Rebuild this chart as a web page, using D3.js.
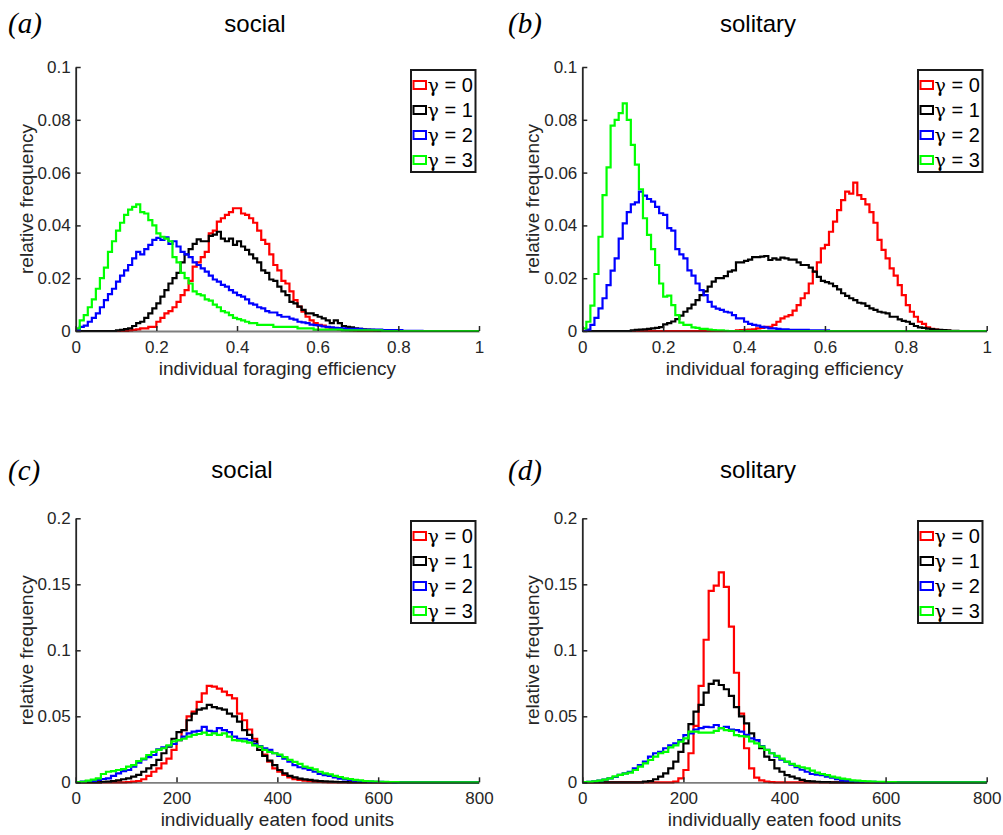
<!DOCTYPE html>
<html>
<head>
<meta charset="utf-8">
<script src="https://cdn.jsdelivr.net/npm/d3@7"></script>
<style>
  body { margin: 0; background: #fff; }
  text { font-family: "Liberation Sans", Arial, Helvetica, sans-serif; }
</style>
</head>
<body>
<svg id="chart" width="1003" height="835"></svg>
<script>
// legend entries, one per gamma value
const gammaValues = ['0', '1', '2', '3'];
const lineColors = ['#ff0000', '#000000', '#0000ff', '#00ff00'];

// ticks
const effTicksX = [0, 0.2, 0.4, 0.6, 0.8, 1];
const effTicksY = [0, 0.02, 0.04, 0.06, 0.08, 0.1];
const foodTicksX = [0, 200, 400, 600, 800];
const foodTicksY = [0, 0.05, 0.1, 0.15, 0.2];

// histogram bins
const effBinWidth = 0.01, effBins = 100;
const foodBinWidth = 10, foodBins = 80;

// (a) social, foraging efficiency. first bin index of each series, then the bin values
const aStarts = [13, 10, 0, 0];
const aG0 = [0.0002, 0.0004, 0.0006, 0.001, 0.001, 0.0016, 0.0016, 0.0035, 0.005, 0.0067, 0.0075, 0.009, 0.011, 0.0136, 0.0155, 0.019, 0.0244, 0.026, 0.028, 0.030, 0.037, 0.038, 0.0414, 0.0427, 0.044, 0.045, 0.0465, 0.0465, 0.0445, 0.044, 0.0427, 0.041, 0.038, 0.0345, 0.033, 0.029, 0.025, 0.023, 0.019, 0.018, 0.015, 0.0117, 0.0092, 0.0073, 0.0054, 0.004, 0.003, 0.0023, 0.002, 0.0014, 0.0012, 0.0008, 0.0006, 0.0004, 0.0003, 0.0002, 0.0001];
const aG1 = [0.0002, 0.0004, 0.0007, 0.001, 0.0019, 0.003, 0.0035, 0.005, 0.0067, 0.0086, 0.0105, 0.013, 0.0155, 0.018, 0.020, 0.022, 0.026, 0.029, 0.031, 0.033, 0.0347, 0.034, 0.034, 0.036, 0.0365, 0.0376, 0.035, 0.034, 0.035, 0.0326, 0.034, 0.032, 0.0307, 0.029, 0.0275, 0.026, 0.023, 0.022, 0.0195, 0.019, 0.0168, 0.015, 0.0136, 0.011, 0.0105, 0.0092, 0.008, 0.0067, 0.0067, 0.006, 0.0054, 0.0048, 0.004, 0.003, 0.004, 0.003, 0.0019, 0.0016, 0.0014, 0.001, 0.0008, 0.0006, 0.0005, 0.0004, 0.0003, 0.0002, 0.0002, 0.0001, 0.0001];
const aG2 = [0.0005, 0.0016, 0.002, 0.0035, 0.005, 0.0067, 0.009, 0.0117, 0.014, 0.016, 0.0187, 0.021, 0.023, 0.025, 0.0275, 0.030, 0.029, 0.031, 0.0326, 0.0345, 0.0353, 0.0345, 0.0355, 0.033, 0.034, 0.032, 0.030, 0.029, 0.028, 0.026, 0.025, 0.0237, 0.0225, 0.021, 0.0195, 0.0187, 0.0175, 0.0168, 0.0155, 0.0145, 0.0136, 0.013, 0.012, 0.0105, 0.0100, 0.0090, 0.0086, 0.0075, 0.0070, 0.0070, 0.0060, 0.0054, 0.0054, 0.0047, 0.0043, 0.0035, 0.0033, 0.0030, 0.0024, 0.0022, 0.002, 0.0017, 0.0016, 0.0014, 0.0012, 0.0011, 0.001, 0.0008, 0.0008, 0.0008, 0.0008, 0.0005, 0.0005, 0.0005, 0.0005, 0.0005, 0.0003, 0.0003, 0.0003, 0.0003, 0.0003, 0.0001, 0.0001, 0.0001, 0.0001, 0.0001];
const aG3 = [0.001, 0.004, 0.006, 0.009, 0.012, 0.016, 0.020, 0.024, 0.030, 0.034, 0.038, 0.041, 0.044, 0.046, 0.047, 0.048, 0.045, 0.0445, 0.042, 0.040, 0.037, 0.0357, 0.035, 0.034, 0.028, 0.026, 0.022, 0.020, 0.018, 0.015, 0.014, 0.0135, 0.012, 0.0115, 0.010, 0.009, 0.0075, 0.007, 0.006, 0.005, 0.0045, 0.004, 0.0035, 0.003, 0.003, 0.0023, 0.0023, 0.0023, 0.0023, 0.0016, 0.0016, 0.0016, 0.0016, 0.0016, 0.0016, 0.001, 0.001, 0.001, 0.001, 0.0005, 0.0005, 0.0005, 0.0005, 0.0005, 0.0005, 0.0005, 0.0002, 0.0002, 0.0002, 0.0002, 0.0002, 0.0002, 0.0002, 0.0002, 0.0002, 0.0002];

// (b) solitary, foraging efficiency
const bStarts = [38, 12, 0, 0];
const bG0 = [0.0002, 0.0003, 0.0004, 0.0005, 0.0006, 0.001, 0.0012, 0.0016, 0.0016, 0.0023, 0.0035, 0.0048, 0.0055, 0.006, 0.0077, 0.0098, 0.0124, 0.0143, 0.018, 0.0225, 0.026, 0.0313, 0.0326, 0.0376, 0.0414, 0.0458, 0.0496, 0.0528, 0.052, 0.0562, 0.0515, 0.050, 0.048, 0.045, 0.041, 0.0345, 0.0307, 0.0275, 0.0237, 0.021, 0.0174, 0.0136, 0.0098, 0.0073, 0.0054, 0.0035, 0.0027, 0.0014, 0.0008, 0.0005, 0.0003, 0.0002, 0.0001];
const bG1 = [0.0002, 0.0004, 0.0005, 0.0006, 0.0008, 0.001, 0.0012, 0.0015, 0.0025, 0.003, 0.0036, 0.0045, 0.0058, 0.0073, 0.0086, 0.010, 0.0117, 0.0136, 0.015, 0.0168, 0.0187, 0.020, 0.020, 0.0208, 0.0225, 0.023, 0.026, 0.026, 0.0266, 0.027, 0.028, 0.028, 0.0282, 0.0284, 0.0269, 0.0275, 0.027, 0.0278, 0.0275, 0.027, 0.027, 0.026, 0.025, 0.025, 0.024, 0.0225, 0.0205, 0.019, 0.0185, 0.018, 0.017, 0.0158, 0.0143, 0.0133, 0.0124, 0.0117, 0.0107, 0.0105, 0.0095, 0.0086, 0.008, 0.0073, 0.007, 0.0067, 0.0054, 0.0054, 0.0044, 0.0038, 0.0035, 0.0027, 0.0019, 0.0014, 0.0012, 0.0009, 0.0007, 0.0005, 0.0004, 0.0003, 0.0002, 0.0001, 0.0001];
const bG2 = [0, 0.0005, 0.0023, 0.005, 0.0086, 0.0124, 0.0174, 0.0229, 0.0275, 0.035, 0.0408, 0.045, 0.048, 0.0487, 0.0528, 0.0513, 0.050, 0.049, 0.047, 0.0446, 0.044, 0.039, 0.038, 0.031, 0.029, 0.0275, 0.023, 0.021, 0.018, 0.0155, 0.0136, 0.011, 0.0092, 0.0085, 0.008, 0.0073, 0.007, 0.006, 0.0048, 0.0048, 0.0035, 0.0027, 0.0023, 0.002, 0.0016, 0.0014, 0.001, 0.001, 0.0008, 0.0006, 0.0006, 0.0004, 0.0004, 0.0004, 0.0004, 0.0004, 0.0002, 0.0002, 0.0002, 0.0002, 0.0002];
const bG3 = [0.001, 0.0035, 0.0096, 0.0216, 0.0357, 0.0515, 0.062, 0.0778, 0.080, 0.0825, 0.0862, 0.080, 0.0705, 0.063, 0.0537, 0.0427, 0.0364, 0.031, 0.025, 0.018, 0.013, 0.0134, 0.0098, 0.006, 0.0032, 0.0023, 0.0023, 0.0014, 0.0012, 0.0008, 0.0008, 0.0005, 0.0003, 0.0002, 0.0002, 0.0001];

// (c) social, eaten food units
const cStarts = [10, 5, 0, 0];
const cG0 = [0.0002, 0.0005, 0.001, 0.0023, 0.0048, 0.008, 0.0106, 0.0144, 0.018, 0.0245, 0.032, 0.0396, 0.050, 0.0535, 0.061, 0.0674, 0.073, 0.0725, 0.071, 0.0687, 0.066, 0.0636, 0.052, 0.047, 0.040, 0.033, 0.027, 0.021, 0.0157, 0.0106, 0.008, 0.0056, 0.0038, 0.0023, 0.0018, 0.0012, 0.0008, 0.0005, 0.0003, 0.0002];
const cG1 = [0.0003, 0.0005, 0.001, 0.0015, 0.0023, 0.003, 0.0043, 0.0056, 0.008, 0.0106, 0.013, 0.017, 0.022, 0.027, 0.033, 0.038, 0.0396, 0.047, 0.052, 0.055, 0.056, 0.0586, 0.057, 0.056, 0.055, 0.052, 0.050, 0.046, 0.0396, 0.036, 0.031, 0.0245, 0.020, 0.0164, 0.013, 0.0093, 0.0068, 0.0048, 0.0038, 0.0028, 0.0022, 0.0018, 0.0012, 0.001, 0.0007, 0.0005, 0.0003, 0.0002, 0.0001];
const cG2 = [0.0002, 0.0005, 0.001, 0.001, 0.0018, 0.0025, 0.003, 0.0048, 0.0068, 0.0085, 0.0093, 0.0119, 0.0149, 0.0174, 0.019, 0.0207, 0.025, 0.0265, 0.0275, 0.029, 0.032, 0.0346, 0.037, 0.0384, 0.039, 0.042, 0.039, 0.0384, 0.041, 0.0396, 0.038, 0.0346, 0.033, 0.033, 0.032, 0.029, 0.0275, 0.0258, 0.0245, 0.022, 0.020, 0.018, 0.0157, 0.013, 0.0114, 0.0105, 0.0093, 0.008, 0.0063, 0.0055, 0.0048, 0.0038, 0.0028, 0.0022, 0.0018, 0.0013, 0.001, 0.0008, 0.0005, 0.0004, 0.0003, 0.0002, 0.0001];
const cG3 = [0.0002, 0.0004, 0.0013, 0.002, 0.003, 0.0063, 0.008, 0.0085, 0.0093, 0.010, 0.0119, 0.013, 0.016, 0.018, 0.0207, 0.023, 0.0245, 0.0258, 0.028, 0.031, 0.032, 0.033, 0.0346, 0.036, 0.0366, 0.0376, 0.036, 0.037, 0.036, 0.037, 0.0346, 0.032, 0.0316, 0.031, 0.030, 0.028, 0.027, 0.0245, 0.023, 0.022, 0.021, 0.019, 0.017, 0.0155, 0.0139, 0.0119, 0.011, 0.0098, 0.008, 0.0068, 0.006, 0.0048, 0.004, 0.003, 0.0025, 0.0018, 0.0015, 0.001, 0.0008, 0.0006, 0.0004, 0.0003, 0.0002, 0.0001];

// (d) solitary, eaten food units
const dStarts = [18, 12, 0, 0];
const dG0 = [0.0005, 0.003, 0.0093, 0.022, 0.0427, 0.073, 0.108, 0.145, 0.149, 0.159, 0.148, 0.118, 0.083, 0.052, 0.0258, 0.0106, 0.0035, 0.0015, 0.0005, 0.0002];
const dG1 = [0.0005, 0.001, 0.0023, 0.0043, 0.0068, 0.0106, 0.0157, 0.023, 0.0295, 0.044, 0.0535, 0.0586, 0.068, 0.0745, 0.077, 0.0737, 0.0705, 0.0654, 0.057, 0.050, 0.0447, 0.037, 0.032, 0.0258, 0.0194, 0.0169, 0.0106, 0.008, 0.0055, 0.0043, 0.003, 0.0018, 0.001, 0.0007, 0.0004, 0.0002, 0.0001];
const dG2 = [0.0002, 0.0004, 0.0008, 0.0013, 0.002, 0.003, 0.004, 0.0056, 0.0068, 0.008, 0.0106, 0.013, 0.0157, 0.0194, 0.022, 0.023, 0.0258, 0.028, 0.0295, 0.032, 0.0358, 0.037, 0.040, 0.041, 0.042, 0.0417, 0.0434, 0.041, 0.042, 0.040, 0.0396, 0.0384, 0.036, 0.0333, 0.032, 0.0275, 0.0245, 0.022, 0.0194, 0.0172, 0.0155, 0.0134, 0.0115, 0.0095, 0.008, 0.0063, 0.0058, 0.0055, 0.0043, 0.0035, 0.0023, 0.0015, 0.0013, 0.001, 0.0007, 0.0005, 0.0004, 0.0003, 0.0002, 0.0001];
const dG3 = [0.0001, 0.0003, 0.0008, 0.0013, 0.002, 0.003, 0.0045, 0.0056, 0.0065, 0.0073, 0.0093, 0.0119, 0.0144, 0.0169, 0.0194, 0.022, 0.023, 0.0265, 0.028, 0.0308, 0.0333, 0.0384, 0.0384, 0.0376, 0.0376, 0.0376, 0.039, 0.041, 0.0396, 0.039, 0.0358, 0.035, 0.0346, 0.031, 0.0295, 0.027, 0.0245, 0.022, 0.020, 0.018, 0.0157, 0.0139, 0.0124, 0.0114, 0.0106, 0.0088, 0.0073, 0.0063, 0.0055, 0.0043, 0.0035, 0.0028, 0.0023, 0.0015, 0.0013, 0.001, 0.0007, 0.0005, 0.0004, 0.0003, 0.0002, 0.0001];

const effLabel = 'individual foraging efficiency';
const foodLabel = 'individually eaten food units';

const panels = [
  { tag: '(a)', title: 'social', xlabel: effLabel, starts: aStarts, series: [aG0, aG1, aG2, aG3],
    binW: effBinWidth, nBins: effBins, xDomain: [0, 1], yDomain: [0, 0.1], xTicks: effTicksX, yTicks: effTicksY,
    left: 75.7, right: 479, top: 67, bottom: 331, titleX: 255, titleY: 32, tagX: 8, tagY: 33, legendX: 411, legendY: 70 },
  { tag: '(b)', title: 'solitary', xlabel: effLabel, starts: bStarts, series: [bG0, bG1, bG2, bG3],
    binW: effBinWidth, nBins: effBins, xDomain: [0, 1], yDomain: [0, 0.1], xTicks: effTicksX, yTicks: effTicksY,
    left: 582.3, right: 986.7, top: 67, bottom: 331, titleX: 758, titleY: 32, tagX: 508, tagY: 33, legendX: 918, legendY: 70 },
  { tag: '(c)', title: 'social', xlabel: foodLabel, starts: cStarts, series: [cG0, cG1, cG2, cG3],
    binW: foodBinWidth, nBins: foodBins, xDomain: [0, 800], yDomain: [0, 0.2], xTicks: foodTicksX, yTicks: foodTicksY,
    left: 75.7, right: 479, top: 518.3, bottom: 782.3, titleX: 242, titleY: 478, tagX: 8, tagY: 480, legendX: 411, legendY: 521 },
  { tag: '(d)', title: 'solitary', xlabel: foodLabel, starts: dStarts, series: [dG0, dG1, dG2, dG3],
    binW: foodBinWidth, nBins: foodBins, xDomain: [0, 800], yDomain: [0, 0.2], xTicks: foodTicksX, yTicks: foodTicksY,
    left: 582.3, right: 986.7, top: 518.3, bottom: 782.3, titleX: 758, titleY: 478, tagX: 508, tagY: 480, legendX: 918, legendY: 521 },
];

const svg = d3.select('#chart');
const axisColor = '#262626';
const fmt = d3.format('~g');

panels.forEach((p) => {
  const x = d3.scaleLinear().domain(p.xDomain).range([p.left, p.right]);
  const y = d3.scaleLinear().domain(p.yDomain).range([p.bottom, p.top]);
  const g = svg.append('g');

  // histogram outlines (stairs)
  const line = d3.line()
    .x((d) => x(d[0]))
    .y((d) => y(d[1]))
    .curve(d3.curveStepAfter);

  p.series.forEach((vals, i) => {
    const full = d3.range(p.nBins).map((k) => {
      const j = k - p.starts[i];
      return j >= 0 && j < vals.length ? vals[j] : 0;
    });
    const pts = full.map((v, k) => [k * p.binW, v]);
    pts.push([p.nBins * p.binW, full[full.length - 1]]);
    g.append('path')
      .attr('d', line(pts))
      .attr('fill', 'none')
      .attr('stroke', lineColors[i])
      .attr('stroke-width', 2.2);
  });

  // axes, ticks pointing inward
  const xAxis = g.append('g')
    .attr('transform', `translate(0,${p.bottom})`)
    .call(d3.axisBottom(x).tickValues(p.xTicks).tickFormat(fmt)
      .tickSizeInner(-5).tickSizeOuter(0).tickPadding(10));
  const yAxis = g.append('g')
    .attr('transform', `translate(${p.left},0)`)
    .call(d3.axisLeft(y).tickValues(p.yTicks).tickFormat(fmt)
      .tickSizeInner(-5).tickSizeOuter(0).tickPadding(5));

  [xAxis, yAxis].forEach((a) => {
    a.attr('font-size', 17).attr('font-family', '"Liberation Sans", Arial, sans-serif');
    a.selectAll('text').attr('fill', axisColor);
    a.selectAll('.tick line').attr('stroke', axisColor).attr('stroke-width', 1.5);
    a.select('.domain').attr('stroke', axisColor).attr('stroke-width', 1.8);
  });
  // zero-level lines show through the bottom axis
  xAxis.select('.domain').attr('stroke-opacity', 0.6);

  // labels
  g.append('text')
    .attr('x', (p.left + p.right) / 2)
    .attr('y', p.bottom + 44)
    .attr('text-anchor', 'middle')
    .attr('font-size', 19)
    .attr('fill', axisColor)
    .text(p.xlabel);

  g.append('text')
    .attr('transform', `translate(${p.left - 43},${(p.top + p.bottom) / 2}) rotate(-90)`)
    .attr('text-anchor', 'middle')
    .attr('font-size', 19)
    .attr('fill', axisColor)
    .text('relative frequency');

  g.append('text')
    .attr('x', p.titleX)
    .attr('y', p.titleY)
    .attr('text-anchor', 'middle')
    .attr('font-size', 24)
    .attr('fill', '#000')
    .text(p.title);

  g.append('text')
    .attr('x', p.tagX)
    .attr('y', p.tagY)
    .attr('font-size', 29)
    .attr('font-style', 'italic')
    .style('font-family', '"Liberation Serif", "Times New Roman", serif')
    .attr('fill', '#000')
    .text(p.tag);

  // legend
  const lg = g.append('g').attr('transform', `translate(${p.legendX},${p.legendY})`);
  lg.append('rect')
    .attr('width', 64.5)
    .attr('height', 102)
    .attr('fill', '#fff')
    .attr('stroke', '#1a1a1a')
    .attr('stroke-width', 2);
  gammaValues.forEach((v, i) => {
    const cy = 15 + 25 * i;
    lg.append('rect')
      .attr('x', 2.5)
      .attr('y', cy - 4)
      .attr('width', 12.5)
      .attr('height', 8)
      .attr('fill', 'none')
      .attr('stroke', lineColors[i])
      .attr('stroke-width', 2);
    const t = lg.append('text')
      .attr('x', 16.5)
      .attr('y', cy)
      .attr('dy', '0.36em')
      .attr('font-size', 20)
      .attr('fill', '#000');
    t.append('tspan')
      .style('font-family', '"DejaVu Serif", "Liberation Serif", serif')
      .attr('font-size', 19)
      .text('γ');
    t.append('tspan').text(' = ' + v);
  });
});
</script>
</body>
</html>
